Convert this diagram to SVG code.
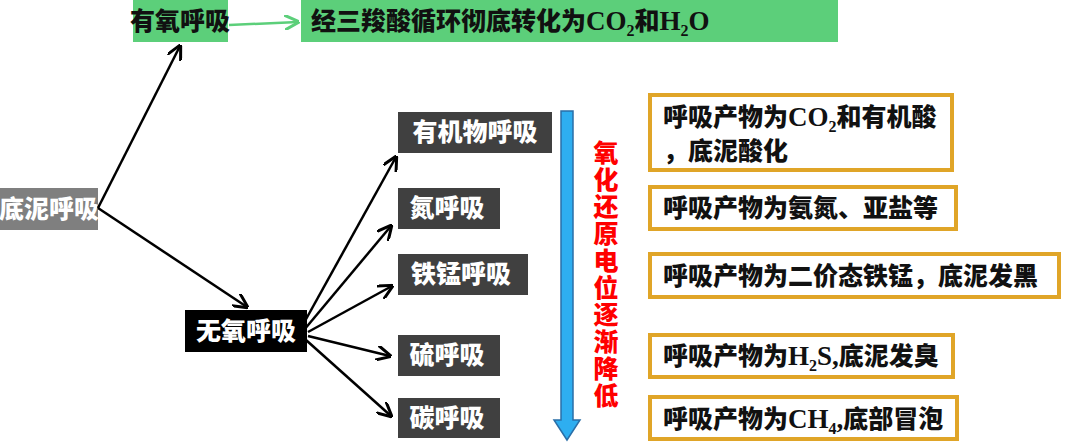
<svg xmlns="http://www.w3.org/2000/svg" width="1080" height="443" viewBox="0 0 1080 443">
<defs>
<style>
text{font-family:"Noto Sans CJK SC","Liberation Sans",sans-serif;font-weight:900;font-size:25px}
.w{fill:#fff}.k{fill:#111}
.sub{font-family:"Liberation Serif","Noto Sans CJK SC",serif;font-size:16px}
.ser{font-family:"Liberation Serif","Noto Sans CJK SC",serif;font-size:27px}
.ob{fill:#fff;stroke:#e0a528;stroke-width:4}
.c{stroke:#000;stroke-width:2.5;fill:none;marker-end:url(#ah)}
</style>
<marker id="ah" viewBox="0 0 10 10" refX="9" refY="5" markerWidth="6" markerHeight="6" orient="auto"><path d="M0,0 L10,5 L0,10" fill="none" stroke="#000" stroke-width="2"/></marker>
<marker id="ag" viewBox="0 0 10 10" refX="9" refY="5" markerWidth="6" markerHeight="6" orient="auto"><path d="M0,0 L10,5 L0,10" fill="none" stroke="#5ccf7a" stroke-width="2"/></marker>
</defs>
<rect width="1080" height="443" fill="#fff"/>
<g id="n-dini"><rect x="0" y="188" width="98" height="42" fill="#7f7f7f"/><text x="49" y="218" class="w" text-anchor="middle" font-size="24">底泥呼吸</text></g>
<g id="n-youyang"><rect x="133" y="0" width="95" height="42" fill="#5ccf7a"/><text x="180" y="30" class="k" text-anchor="middle" font-size="24">有氧呼吸</text></g>
<g id="n-tca"><rect x="301" y="0" width="537" height="42" fill="#5ccf7a"/><text x="311" y="30" class="k">经三羧酸循环彻底转化为<tspan class="ser">CO</tspan><tspan class="sub" dy="6">2</tspan><tspan dy="-6">和</tspan><tspan class="ser">H</tspan><tspan class="sub" dy="6">2</tspan><tspan class="ser" dy="-6">O</tspan></text></g>
<g id="n-wuyang"><rect x="185" y="310" width="122" height="42" fill="#000"/><text x="246" y="340" class="w" text-anchor="middle">无氧呼吸</text></g>
<g id="n-youji"><rect x="398" y="112" width="154" height="41" fill="#404040"/><text x="475" y="141" class="w" text-anchor="middle">有机物呼吸</text></g>
<g id="n-dan"><rect x="398" y="188" width="102" height="41" fill="#404040"/><text x="447" y="217" class="w" text-anchor="middle">氮呼吸</text></g>
<g id="n-tiemeng"><rect x="398" y="254" width="130" height="41" fill="#404040"/><text x="461" y="283" class="w" text-anchor="middle">铁锰呼吸</text></g>
<g id="n-liu"><rect x="398" y="335" width="102" height="41" fill="#404040"/><text x="447" y="364" class="w" text-anchor="middle">硫呼吸</text></g>
<g id="n-tan"><rect x="398" y="398" width="102" height="40" fill="#404040"/><text x="447" y="427" class="w" text-anchor="middle">碳呼吸</text></g>
<g id="n-redox">
<path d="M561,111 H573 V420 H580 L567,440 L554,420 H561 Z" fill="#2eaef0" stroke="#2a6fa8" stroke-width="1.5"/>
<text fill="#ff0000" font-size="23" text-anchor="middle"><tspan x="606" y="162">氧</tspan><tspan x="606" y="189">化</tspan><tspan x="606" y="216">还</tspan><tspan x="606" y="243">原</tspan><tspan x="606" y="270">电</tspan><tspan x="606" y="297">位</tspan><tspan x="606" y="324">逐</tspan><tspan x="606" y="351">渐</tspan><tspan x="606" y="378">降</tspan><tspan x="606" y="405">低</tspan></text>
</g>
<g id="n-p1"><rect x="650" y="95" width="302" height="75" class="ob"/><text x="663" y="126" class="k">呼吸产物为<tspan class="ser">CO</tspan><tspan class="sub" dy="6">2</tspan><tspan dy="-6">和有机酸</tspan></text><text x="663" y="160" class="k">，底泥酸化</text></g>
<g id="n-p2"><rect x="650" y="187" width="306" height="42" class="ob"/><text x="663" y="217" class="k">呼吸产物为氨氮、亚盐等</text></g>
<g id="n-p3"><rect x="650" y="254" width="409" height="43" class="ob"/><text x="663" y="285" class="k">呼吸产物为二价态铁锰，底泥发黑</text></g>
<g id="n-p4"><rect x="650" y="335" width="303" height="42" class="ob"/><text x="663" y="365" class="k">呼吸产物为<tspan class="ser">H</tspan><tspan class="sub" dy="6">2</tspan><tspan class="ser" dy="-6">S,</tspan>底泥发臭</text></g>
<g id="n-p5"><rect x="650" y="397" width="307" height="42" class="ob"/><text x="663" y="428" class="k">呼吸产物为<tspan class="ser">CH</tspan><tspan class="sub" dy="6">4</tspan><tspan class="ser" dy="-6">,</tspan>底部冒泡</text></g>
<g id="connectors">
<path d="M229,25 L298,22" stroke="#5ccf7a" stroke-width="2.5" fill="none" marker-end="url(#ag)"/>
<path class="c" d="M98,208 L180,46"/>
<path class="c" d="M98,208 L247,307"/>
<path class="c" d="M300,330 L396,157"/>
<path class="c" d="M304,330 L391,226"/>
<path class="c" d="M308,332 L392,286"/>
<path class="c" d="M308,336 L390,356"/>
<path class="c" d="M306,340 L391,416"/>
</g>
</svg>
